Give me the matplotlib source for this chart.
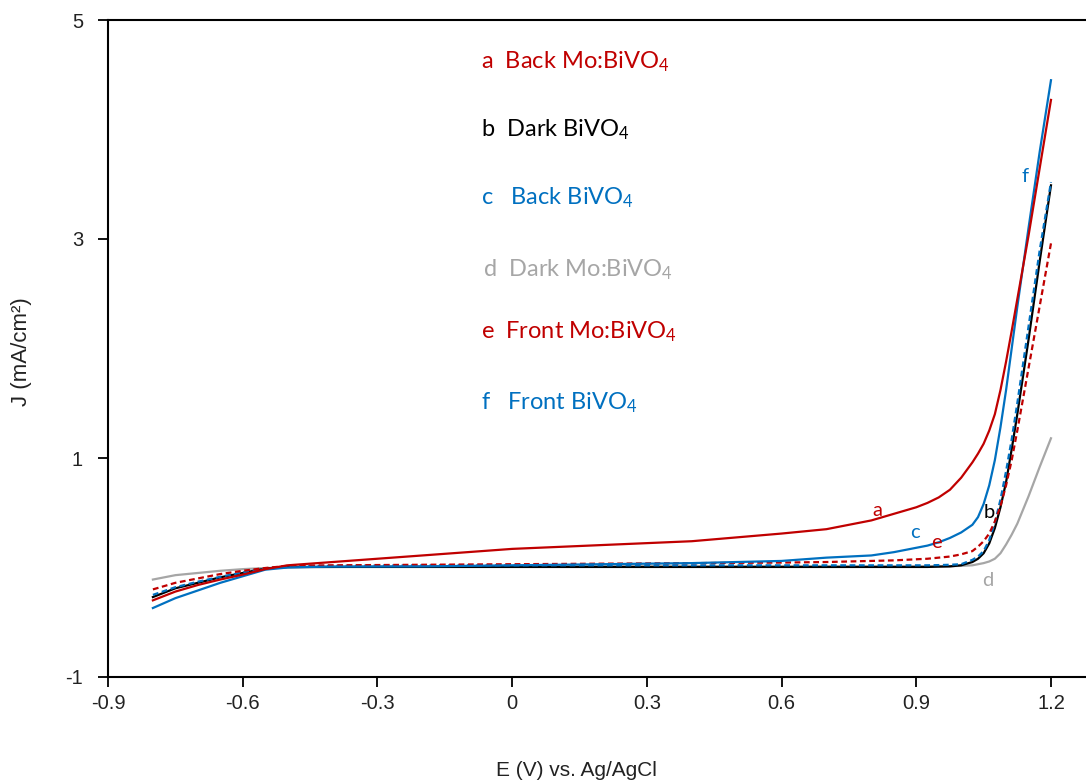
import matplotlib
matplotlib.use("Agg")
import matplotlib.pyplot as plt

plt.rcParams["mathtext.fontset"] = "custom"
plt.rcParams["mathtext.rm"] = "Lato"
plt.rcParams["mathtext.default"] = "regular"

# Potential sweep (V vs. Ag/AgCl)
E = [-0.80, -0.75, -0.70, -0.65, -0.60, -0.55, -0.50, -0.45, -0.40, -0.20, 0.00,
     0.20, 0.40, 0.60, 0.70, 0.80, 0.85, 0.90, 0.925, 0.95, 0.975,
     1.00, 1.025, 1.0375, 1.05, 1.0625, 1.075, 1.0875, 1.10, 1.1125, 1.125,
     1.15, 1.175, 1.20]

# Current density (mA/cm2)
J_back_mo = [-0.30, -0.22, -0.16, -0.11, -0.065, -0.015, 0.02, 0.035, 0.05, 0.11, 0.17,
             0.205, 0.24, 0.31, 0.35, 0.43, 0.49, 0.55, 0.59, 0.64, 0.71,
             0.82, 0.96, 1.04, 1.13, 1.25, 1.40, 1.62, 1.88, 2.16, 2.45,
             3.03, 3.65, 4.27]
J_dark_bvo = [-0.27, -0.19, -0.14, -0.09, -0.05, -0.01, 0.005, 0.005, 0.005, 0.005, 0.005,
              0.005, 0.005, 0.005, 0.005, 0.005, 0.005, 0.005, 0.005, 0.008, 0.01,
              0.02, 0.05, 0.08, 0.13, 0.22, 0.36, 0.55, 0.78, 1.08, 1.40,
              2.08, 2.80, 3.49]
J_back_bvo = [-0.37, -0.28, -0.21, -0.14, -0.08, -0.02, 0.00, 0.005, 0.008, 0.01, 0.02,
              0.03, 0.04, 0.06, 0.09, 0.11, 0.14, 0.18, 0.20, 0.23, 0.27,
              0.32, 0.39, 0.46, 0.58, 0.75, 0.98, 1.28, 1.62, 2.00, 2.38,
              3.10, 3.80, 4.45]
J_dark_mo = [-0.11, -0.07, -0.05, -0.03, -0.015, -0.005, 0.00, 0.003, 0.005, 0.01, 0.01,
             0.01, 0.01, 0.01, 0.01, 0.01, 0.01, 0.01, 0.01, 0.01, 0.012,
             0.015, 0.02, 0.03, 0.04, 0.055, 0.08, 0.13, 0.21, 0.30, 0.40,
             0.65, 0.92, 1.18]
J_front_mo = [-0.20, -0.14, -0.10, -0.06, -0.03, -0.005, 0.015, 0.018, 0.02, 0.025, 0.03,
              0.035, 0.04, 0.045, 0.05, 0.06, 0.065, 0.075, 0.08, 0.09, 0.10,
              0.12, 0.15, 0.19, 0.24, 0.31, 0.42, 0.56, 0.75, 0.98, 1.25,
              1.82, 2.39, 2.96]
J_front_bvo = [-0.25, -0.18, -0.13, -0.085, -0.045, -0.01, 0.01, 0.013, 0.015, 0.02, 0.02,
               0.02, 0.02, 0.02, 0.02, 0.02, 0.02, 0.02, 0.02, 0.022, 0.025,
               0.03, 0.07, 0.10, 0.15, 0.25, 0.41, 0.62, 0.88, 1.17, 1.50,
               2.20, 2.90, 3.52]

RED = "#C00000"
BLUE = "#0070C0"
GRAY = "#A6A6A6"
BLACK = "#000000"

fig = plt.figure(figsize=(10.86, 7.83), dpi=100)
ax = fig.add_axes([108 / 1086, 1 - 677 / 783, 1 - 108 / 1086, (677 - 20) / 783])

lw = 1.6
dash = (0, (2.6, 1.6))
ax.plot(E, J_dark_mo, color=GRAY, lw=lw)
ax.plot(E, J_dark_bvo, color=BLACK, lw=lw)
ax.plot(E, J_front_bvo, color=BLUE, lw=lw, ls=dash)
ax.plot(E, J_front_mo, color=RED, lw=lw, ls=dash)
ax.plot(E, J_back_bvo, color=BLUE, lw=lw)
ax.plot(E, J_back_mo, color=RED, lw=lw)

ax.set_xlim(-0.9, 1.278)
ax.set_ylim(-1, 5)
ax.set_xticks([-0.9, -0.6, -0.3, 0, 0.3, 0.6, 0.9, 1.2])
ax.set_xticklabels(["-0.9", "-0.6", "-0.3", "0", "0.3", "0.6", "0.9", "1.2"])
ax.set_yticks([-1, 1, 3, 5])
ax.set_yticklabels(["-1", "1", "3", "5"])
for s in ("left", "bottom", "top"):
    ax.spines[s].set_linewidth(1.5)
ax.spines["right"].set_visible(False)
ax.tick_params(direction="out", length=7, width=1.3, labelsize=14.5,
               colors="black")
ax.tick_params(axis="x", pad=5)
ax.tick_params(axis="y", pad=11)
for lab in ax.get_xticklabels() + ax.get_yticklabels():
    lab.set_fontfamily("Liberation Sans")
    lab.set_color("#222222")

fig.text(576 / 1086, 1 - 770 / 783, "E (V) vs. Ag/AgCl", ha="center", va="center",
         fontsize=15, family="Liberation Sans", color="#222222")
fig.text(22 / 1086, 1 - 352 / 783, "J (mA/cm²)", ha="center", va="center",
         rotation=90, fontsize=16, family="Liberation Sans", color="#222222")

# Key listing the samples
key = [
    ("a  Back Mo:BiVO$_4$", RED, 481, 62),
    ("b  Dark BiVO$_4$", BLACK, 481, 130),
    ("c   Back BiVO$_4$", BLUE, 481, 198),
    ("d  Dark Mo:BiVO$_4$", GRAY, 483, 270),
    ("e  Front Mo:BiVO$_4$", RED, 481, 332),
    ("f   Front BiVO$_4$", BLUE, 481, 403),
]
for txt, col, px, py in key:
    fig.text(px / 1086, 1 - py / 783, txt, ha="left", va="center", fontsize=17,
             family="Lato", color=col)

# Curve tags
tags = [
    ("a", RED, 877, 510),
    ("c", BLUE, 915, 533),
    ("e", RED, 936, 543),
    ("b", BLACK, 989, 512),
    ("d", GRAY, 988, 580),
    ("f", BLUE, 1025, 177),
]
for txt, col, px, py in tags:
    fig.text(px / 1086, 1 - py / 783, txt, ha="center", va="center", fontsize=14.5,
             family="Lato", color=col)

fig.savefig("out.png", dpi=100)
